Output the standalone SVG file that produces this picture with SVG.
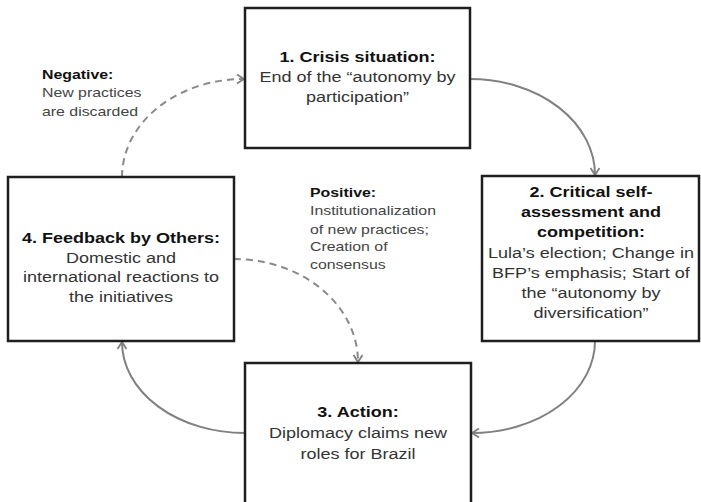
<svg xmlns="http://www.w3.org/2000/svg" width="701" height="502" viewBox="0 0 701 502">
<defs>
<style>
.box{fill:#fff;stroke:#1e1e1e;stroke-width:2.5}
.conn{fill:none;stroke:#808080;stroke-width:2}
.dash{fill:none;stroke:#8a8a8a;stroke-width:2;stroke-dasharray:7 5}
text{font-family:"Liberation Sans",Arial,sans-serif;font-size:14.3px;text-anchor:middle;fill:#333}
.t{font-weight:bold;fill:#111}
.lab text{font-size:12.5px;text-anchor:start;fill:#444}
.lab .t{fill:#111}
</style>
<marker id="arr" markerUnits="userSpaceOnUse" markerWidth="12" markerHeight="12" refX="9" refY="6" orient="auto">
<path d="M2,1.5 L9,6 L2,10.5" fill="none" stroke="#808080" stroke-width="1.8"/>
</marker>
</defs>
<rect width="701" height="502" fill="#fff"/>
<g id="connectors">
<path class="conn" d="M470,79 A125,96 0 0 1 595,175" marker-end="url(#arr)"/>
<path class="conn" d="M595,341 A123,92 0 0 1 472,433" marker-end="url(#arr)"/>
<path class="conn" d="M245,433 A123,91 0 0 1 122,342" marker-end="url(#arr)"/>
<path class="dash" d="M122,177 A122,98 0 0 1 244,79" marker-end="url(#arr)"/>
<path class="dash" d="M234,259 A124,103 0 0 1 358,362" marker-end="url(#arr)"/>
</g>
<g id="node1">
<rect class="box" x="245" y="8" width="225" height="140"/>
<g transform="translate(357.5 0) scale(1.26 1)">
<text class="t" x="0" y="62">1. Crisis situation:</text>
<text x="0" y="82">End of the “autonomy by</text>
<text x="0" y="102">participation”</text>
</g>
</g>
<g id="node2">
<rect class="box" x="482" y="176" width="217" height="165"/>
<g transform="translate(591 0) scale(1.26 1)">
<text class="t" x="0" y="197">2. Critical self-</text>
<text class="t" x="0" y="217">assessment and</text>
<text class="t" x="0" y="237">competition:</text>
<text x="0" y="258">Lula’s election; Change in</text>
<text x="0" y="278">BFP’s emphasis; Start of</text>
<text x="0" y="298">the “autonomy by</text>
<text x="0" y="318">diversification”</text>
</g>
</g>
<g id="node3">
<rect class="box" x="245" y="363" width="226" height="142"/>
<g transform="translate(358 0) scale(1.26 1)">
<text class="t" x="0" y="417">3. Action:</text>
<text x="0" y="438">Diplomacy claims new</text>
<text x="0" y="459">roles for Brazil</text>
</g>
</g>
<g id="node4">
<rect class="box" x="8" y="177" width="226" height="164"/>
<g transform="translate(121 0) scale(1.26 1)">
<text class="t" x="0" y="243">4. Feedback by Others:</text>
<text x="0" y="263">Domestic and</text>
<text x="0" y="282">international reactions to</text>
<text x="0" y="302">the initiatives</text>
</g>
</g>
<g id="label-negative" class="lab" transform="translate(42 0) scale(1.27 1)">
<text class="t" x="0" y="79">Negative:</text>
<text x="0" y="97.5">New practices</text>
<text x="0" y="116">are discarded</text>
</g>
<g id="label-positive" class="lab" transform="translate(310 0) scale(1.27 1)">
<text class="t" x="0" y="197.5">Positive:</text>
<text x="0" y="215.5">Institutionalization</text>
<text x="0" y="233.5">of new practices;</text>
<text x="0" y="251.5">Creation of</text>
<text x="0" y="269.5">consensus</text>
</g>
</svg>
